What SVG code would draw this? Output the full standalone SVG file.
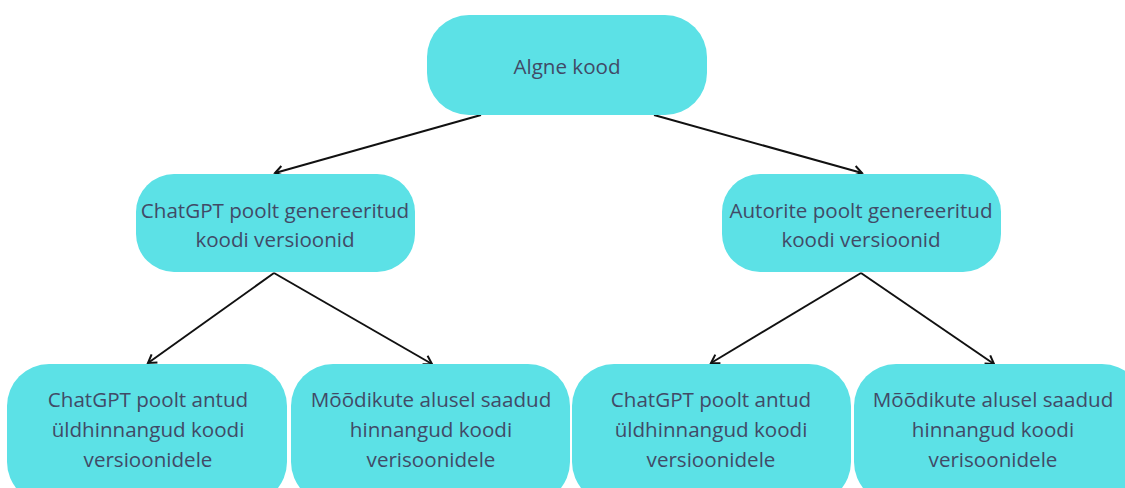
<svg xmlns="http://www.w3.org/2000/svg" width="1125" height="488" viewBox="0 0 1125 488">
<style>
.n{fill:#5ce1e6}
.t{font-family:"Open Sans",Lato,sans-serif;font-size:20.6px;fill:#414a66;text-anchor:middle}
.c{stroke:#111;stroke-width:2;fill:none}
</style>
<defs>
<marker id="a" viewBox="0 0 12 12" refX="10" refY="6" markerWidth="12" markerHeight="12" markerUnits="userSpaceOnUse" orient="auto">
<path d="M2,1 L10,6 L2,11" fill="none" stroke="#111" stroke-width="2"/>
</marker>
</defs>
<rect width="1125" height="488" fill="#fff"/>
<g id="connectors">
<line class="c" x1="481" y1="115" x2="275" y2="173" marker-end="url(#a)"/>
<line class="c" x1="654" y1="115" x2="862" y2="173" marker-end="url(#a)"/>
<line class="c" x1="274" y1="273" x2="148" y2="363" marker-end="url(#a)"/>
<line class="c" x1="274" y1="273" x2="432" y2="364" marker-end="url(#a)"/>
<line class="c" x1="861" y1="273" x2="711" y2="363" marker-end="url(#a)"/>
<line class="c" x1="861" y1="273" x2="994" y2="364" marker-end="url(#a)"/>
</g>
<g id="n0"><rect class="n" x="427" y="15" width="280" height="100" rx="42"/><text class="t" x="567" y="74">Algne kood</text></g>
<g id="n1"><rect class="n" x="136" y="174" width="279" height="98" rx="38"/><text class="t" x="275" y="218">ChatGPT poolt genereeritud</text><text class="t" x="275" y="247">koodi versioonid</text></g>
<g id="n2"><rect class="n" x="722" y="174" width="279" height="98" rx="38"/><text class="t" x="861" y="218">Autorite poolt genereeritud</text><text class="t" x="861" y="247">koodi versioonid</text></g>
<g id="n3"><rect class="n" x="7" y="364" width="280" height="140" rx="42"/><text class="t" x="148" y="407">ChatGPT poolt antud</text><text class="t" x="148" y="437">üldhinnangud koodi</text><text class="t" x="148" y="467">versioonidele</text></g>
<g id="n4"><rect class="n" x="291" y="364" width="279" height="140" rx="42"/><text class="t" x="431" y="407">Mõõdikute alusel saadud</text><text class="t" x="431" y="437">hinnangud koodi</text><text class="t" x="431" y="467">verisoonidele</text></g>
<g id="n5"><rect class="n" x="572" y="364" width="279" height="140" rx="42"/><text class="t" x="711" y="407">ChatGPT poolt antud</text><text class="t" x="711" y="437">üldhinnangud koodi</text><text class="t" x="711" y="467">versioonidele</text></g>
<g id="n6"><rect class="n" x="854" y="364" width="290" height="140" rx="42"/><text class="t" x="993" y="407">Mõõdikute alusel saadud</text><text class="t" x="993" y="437">hinnangud koodi</text><text class="t" x="993" y="467">verisoonidele</text></g>
</svg>
